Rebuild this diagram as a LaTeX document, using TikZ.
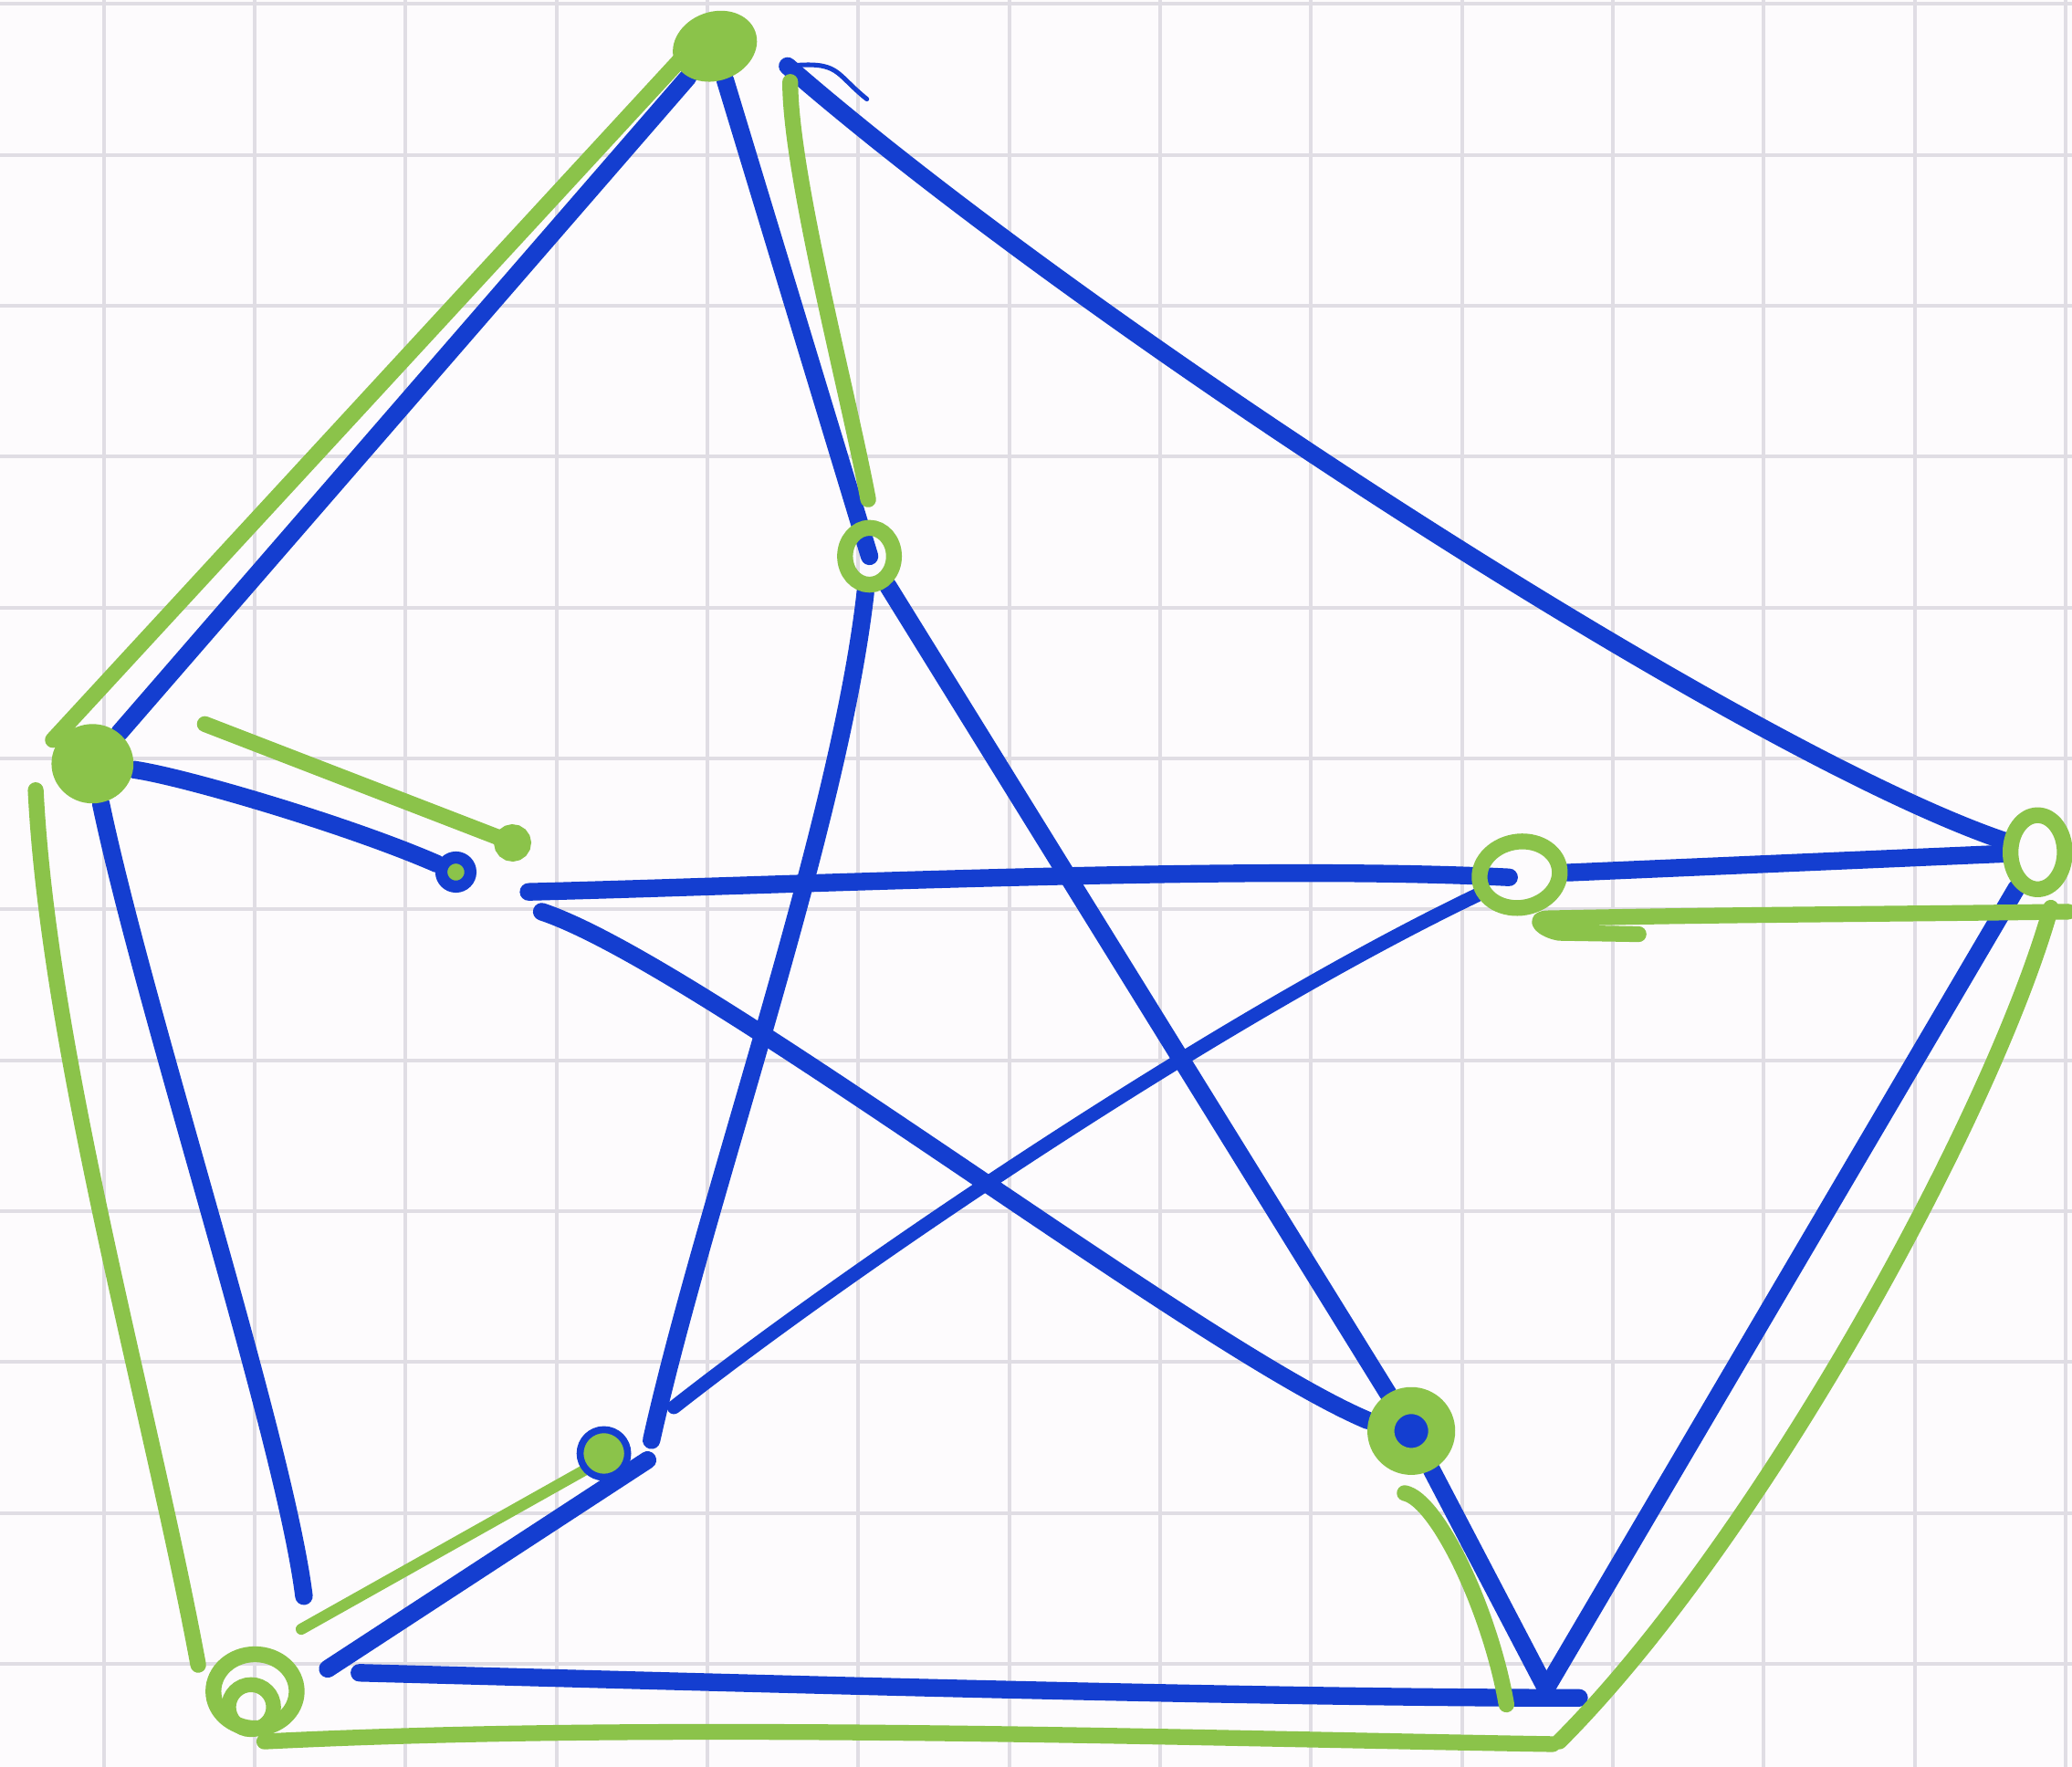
\documentclass[tikz,border=0pt]{standalone}
\usetikzlibrary{arrows.meta,shapes.geometric,backgrounds}
\definecolor{inkblue}{RGB}{20,62,208}
\definecolor{inkgreen}{RGB}{139,195,74}
\definecolor{paper}{RGB}{253,251,253}
\definecolor{gridgray}{RGB}{224,221,228}
\begin{document}
\begin{tikzpicture}[x=0.01cm,y=-0.01cm,
  vdot/.style={circle,fill=inkgreen,inner sep=0pt},
  vring/.style={circle,draw=inkgreen,line width=3.4pt,inner sep=0pt},
  edgeb/.style={draw=inkblue,line width=3.8pt,line cap=round,line join=round},
  edgeg/.style={draw=inkgreen,line width=3.4pt,line cap=round,line join=round},
  gridln/.style={draw=gridgray,line width=0.8pt}]
\useasboundingbox (0,0) rectangle (1568,1337);
\node[vdot,ellipse,minimum width=0.65cm,minimum height=0.52cm,rotate=20] (top) at (541,35) {};
\node[vdot,ellipse,minimum width=0.62cm,minimum height=0.6cm] (left) at (70,578) {};
\node[vring,ellipse,minimum width=0.41cm,minimum height=0.56cm] (right) at (1542,645) {};
\node[vring,ellipse,minimum width=0.63cm,minimum height=0.56cm] (botL) at (193,1280) {};
\draw[inkgreen,line width=3.2pt] ([shift={(-3,12)}]botL.center) circle[radius=0.17cm];
\coordinate (botR) at (1170,1278);
\node[vring,ellipse,minimum width=0.37cm,minimum height=0.43cm] (inTop) at (658,421) {};
\node[circle,draw=inkblue,fill=inkgreen,line width=2.6pt,inner sep=0pt,
  minimum size=0.22cm] (inLeft) at (345,660) {};
\node[vring,ellipse,minimum width=0.61cm,minimum height=0.5cm,rotate=10] (inRight) at (1150,662) {};
\node[circle,draw=inkblue,fill=inkgreen,line width=1.5pt,inner sep=0pt,
  minimum size=0.36cm] (inBL) at (457,1100) {};
\node[vring,line width=5.8pt,fill=inkblue,minimum size=0.46cm] (inBR) at (1068,1083) {};
\begin{scope}[on background layer]
\fill[paper] (0,0) rectangle (1568,1337);
\foreach \k in {0,...,13}
  \draw[gridln] (78.5+114.2*\k,0) -- ++(0,1337);
\foreach \k in {0,...,11}
  \draw[gridln] (0,3+114.2*\k) -- ++(1568,0);
\draw[edgeb] (top) -- (left);
\draw[edgeb] (top) -- (inTop.center);
\draw[edgeb] ([shift={(55,15)}]top.center) .. controls +(230,200) and +(-220,-75) .. (right);
\draw[edgeb,line width=1pt] ([shift={(55,15)}]top.center) .. controls +(40,-4) and +(-25,-20) .. ([shift={(115,40)}]top.center);
\draw[edgeb] (left) .. controls +(70,10) and +(-80,-35) .. (inLeft);
\draw[edgeb] (left) .. controls +(40,190) and +(-15,-120) .. ([shift={(37,-72)}]botL.center);
\draw[edgeb] (inTop) .. controls +(-23,205) and +(40,-180) .. ([shift={(36,-10)}]inBL.center);
\draw[edgeb] (inTop) -- (inBR);
\draw[edgeb] ([shift={(55,15)}]inLeft.center) .. controls +(200,-5) and +(-200,-10) .. ([shift={(-8,2)}]inRight.center);
\draw[edgeb] ([shift={(65,30)}]inLeft.center) .. controls +(120,40) and +(-130,-55) .. ([shift={(-33,-8)}]inBR.center);
\draw[edgeb] (inRight) -- (right);
\draw[edgeb,line width=3pt] (inRight) .. controls +(-225,108) and +(140,-110) .. ([shift={(53,-35)}]inBL.center);
\draw[edgeb] (inBR) -- (botR);
\draw[edgeb] (right) -- (botR);
\draw[edgeb] ([shift={(25,7)}]botR) .. controls +(-250,0) and +(300,8) .. ([shift={(79,-14)}]botL.center);
\draw[edgeb] ([shift={(33,5)}]inBL.center) -- ([shift={(55,-17)}]botL.center);
\draw[edgeg] ([shift={(-26,10)}]top.center) -- ([shift={(-30,-18)}]left.center);
\draw[edgeg] ([shift={(57,27)}]top.center) .. controls +(0,70) and +(-15,-80) .. ([shift={(-1,-43)}]inTop.center);
\draw[edgeg,-{Circle[length=8pt]}] ([shift={(85,-30)}]left.center) -- ([shift={(56,-17)}]inLeft.center);
\draw[edgeg] ([shift={(-43,20)}]left.center) .. controls +(10,200) and +(-35,-190) .. ([shift={(-43,-20)}]botL.center);
\draw[edgeg] ([shift={(7,38)}]botL.center) .. controls +(300,-15) and +(-300,-5) .. ([shift={(5,42)}]botR);
\draw[edgeg] ([shift={(10,40)}]botR) .. controls +(150,-150) and +(-45,160) .. ([shift={(10,42)}]right.center);
\draw[edgeg] ([shift={(23,45)}]right.center) .. controls +(-150,2) and +(150,-3) .. ([shift={(22,33)}]inRight.center)
  .. controls +(-14,0) and +(-12,-2) .. ([shift={(30,44)}]inRight.center) -- ([shift={(90,45)}]inRight.center);
\draw[edgeg,line width=2.4pt] ([shift={(-10,10)}]inBL.center) -- ([shift={(35,-47)}]botL.center);
\draw[edgeg] ([shift={(-5,47)}]inBR.center) .. controls +(25,5) and +(-12,-70) .. ([shift={(-30,12)}]botR);
\end{scope}
\end{tikzpicture}
\end{document}
